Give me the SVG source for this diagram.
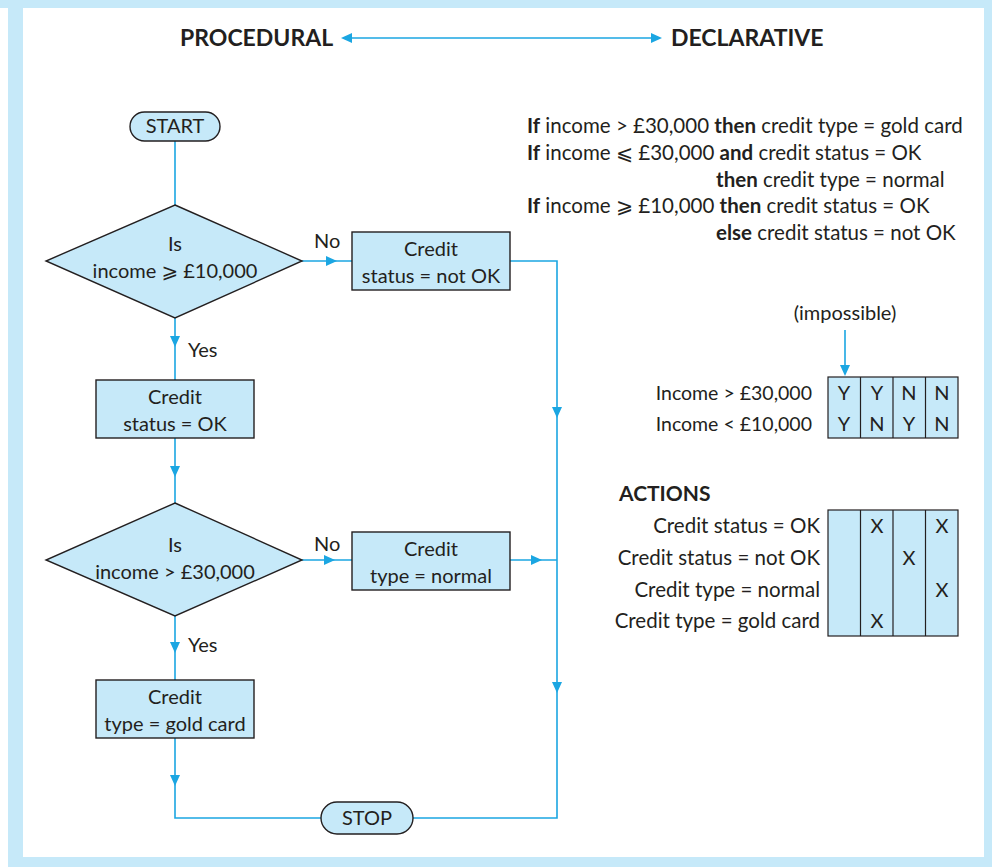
<svg xmlns="http://www.w3.org/2000/svg" width="992" height="867" viewBox="0 0 992 867">
  <style>
    text { font-family: Lato, "Liberation Sans", "DejaVu Sans", sans-serif; font-size: 20px; fill: #231f20; }
    .b { font-weight: bold; }
    .hd { font-size: 23px; font-weight: bold; }
    .rule { font-size: 20.5px; }
    .cond { font-size: 19.5px; }
    .mid { text-anchor: middle; }
    .end { text-anchor: end; }
    .frame { fill: #c6e9f9; }
    .node { fill: #c6e9f9; stroke: #231f20; stroke-width: 1.4; }
    .cell { fill: #c6e9f9; stroke: #231f20; stroke-width: 1.2; }
    .wire { fill: none; stroke: #1ba6e2; stroke-width: 1.6; }
    .head { fill: #1ba6e2; }
  </style>
  <defs>
    <path id="ah" d="M0,0 L-11,-5 L-11,5 Z"/>
  </defs>

  <!-- page frame -->
  <rect class="frame" x="0" y="0" width="992" height="8"/>
  <rect class="frame" x="8" y="0" width="15" height="867"/>
  <rect class="frame" x="984" y="0" width="8" height="867"/>
  <rect class="frame" x="8" y="857" width="984" height="10"/>

  <!-- heading scale -->
  <g id="scale">
    <text class="hd" x="180" y="46">PROCEDURAL</text>
    <text class="hd" x="671" y="46">DECLARATIVE</text>
    <line class="wire" x1="345" y1="38" x2="658" y2="38"/>
    <use href="#ah" class="head" transform="translate(341,38) rotate(180)"/>
    <use href="#ah" class="head" transform="translate(662,38)"/>
  </g>

  <!-- connectors -->
  <g id="connectors">
    <path class="wire" d="M175,141 V205"/>
    <path class="wire" d="M302,261 H352"/>
    <path class="wire" d="M510,261 H557 V818 H413"/>
    <path class="wire" d="M175,318 V380"/>
    <path class="wire" d="M175,438 V503"/>
    <path class="wire" d="M302,560 H352"/>
    <path class="wire" d="M510,560 H557"/>
    <path class="wire" d="M175,616 V680"/>
    <path class="wire" d="M175,738 V818 H321"/>
    <path class="wire" d="M845,330 V372"/>
    <use href="#ah" class="head" transform="translate(337,261)"/>
    <use href="#ah" class="head" transform="translate(175,347) rotate(90)"/>
    <use href="#ah" class="head" transform="translate(175,477) rotate(90)"/>
    <use href="#ah" class="head" transform="translate(335,560)"/>
    <use href="#ah" class="head" transform="translate(542,560)"/>
    <use href="#ah" class="head" transform="translate(557,418) rotate(90)"/>
    <use href="#ah" class="head" transform="translate(557,693) rotate(90)"/>
    <use href="#ah" class="head" transform="translate(175,653) rotate(90)"/>
    <use href="#ah" class="head" transform="translate(175,786) rotate(90)"/>
    <use href="#ah" class="head" transform="translate(845,376) rotate(90)"/>
    <text x="314" y="248">No</text>
    <text x="314" y="551">No</text>
    <text x="188" y="357">Yes</text>
    <text x="188" y="652">Yes</text>
  </g>

  <!-- flowchart nodes -->
  <g id="start">
    <rect class="node" x="130" y="112" width="90" height="29" rx="14.5"/>
    <text class="mid" x="175" y="133">START</text>
  </g>
  <g id="dec1">
    <polygon class="node" points="175,205 302,261 175,318 46,261"/>
    <text class="mid" x="175" y="251">Is</text>
    <text class="mid" x="175" y="278">income ⩾ £10,000</text>
  </g>
  <g id="notok">
    <rect class="node" x="352" y="232" width="158" height="58"/>
    <text class="mid" x="431" y="256">Credit</text>
    <text class="mid" x="431" y="283">status = not OK</text>
  </g>
  <g id="ok">
    <rect class="node" x="96" y="380" width="158" height="58"/>
    <text class="mid" x="175" y="404">Credit</text>
    <text class="mid" x="175" y="431">status = OK</text>
  </g>
  <g id="dec2">
    <polygon class="node" points="175,503 302,560 175,616 46,560"/>
    <text class="mid" x="175" y="552">Is</text>
    <text class="mid" x="175" y="579">income &gt; £30,000</text>
  </g>
  <g id="normal">
    <rect class="node" x="352" y="532" width="158" height="58"/>
    <text class="mid" x="431" y="556">Credit</text>
    <text class="mid" x="431" y="583">type = normal</text>
  </g>
  <g id="gold">
    <rect class="node" x="96" y="680" width="158" height="58"/>
    <text class="mid" x="175" y="704">Credit</text>
    <text class="mid" x="175" y="731">type = gold card</text>
  </g>
  <g id="stop">
    <rect class="node" x="321" y="802" width="92" height="32" rx="16"/>
    <text class="mid" x="367" y="825">STOP</text>
  </g>

  <!-- rules -->
  <g id="rules" class="rule">
    <text class="rule" x="527" y="133"><tspan class="b">If</tspan> income &gt; £30,000 <tspan class="b">then</tspan> credit type = gold card</text>
    <text class="rule" x="527" y="160"><tspan class="b">If</tspan> income ⩽ £30,000 <tspan class="b">and</tspan> credit status = OK</text>
    <text class="rule" x="716" y="187"><tspan class="b">then</tspan> credit type = normal</text>
    <text class="rule" x="527" y="213"><tspan class="b">If</tspan> income ⩾ £10,000 <tspan class="b">then</tspan> credit status = OK</text>
    <text class="rule" x="716" y="240"><tspan class="b">else</tspan> credit status = not OK</text>
  </g>

  <!-- condition table -->
  <g id="conditions">
    <text class="mid" x="845" y="320">(impossible)</text>
    <rect class="cell" x="828" y="377" width="130" height="61"/>
    <line class="cell" x1="860.5" y1="377" x2="860.5" y2="438"/>
    <line class="cell" x1="893" y1="377" x2="893" y2="438"/>
    <line class="cell" x1="925.5" y1="377" x2="925.5" y2="438"/>
    <text class="end cond" x="812" y="400">Income &gt; £30,000</text>
    <text class="end cond" x="812" y="431">Income &lt; £10,000</text>
    <text class="mid" x="844" y="400">Y</text>
    <text class="mid" x="877" y="400">Y</text>
    <text class="mid" x="909" y="400">N</text>
    <text class="mid" x="942" y="400">N</text>
    <text class="mid" x="844" y="431">Y</text>
    <text class="mid" x="877" y="431">N</text>
    <text class="mid" x="909" y="431">Y</text>
    <text class="mid" x="942" y="431">N</text>
  </g>

  <!-- action table -->
  <g id="actions">
    <text class="b" x="619" y="501" style="font-size:21px">ACTIONS</text>
    <rect class="cell" x="828" y="510" width="130" height="126"/>
    <line class="cell" x1="860.5" y1="510" x2="860.5" y2="636"/>
    <line class="cell" x1="893" y1="510" x2="893" y2="636"/>
    <line class="cell" x1="925.5" y1="510" x2="925.5" y2="636"/>
    <text class="end rule" x="820" y="533">Credit status = OK</text>
    <text class="end rule" x="820" y="565">Credit status = not OK</text>
    <text class="end rule" x="820" y="597">Credit type = normal</text>
    <text class="end rule" x="820" y="628">Credit type = gold card</text>
    <text class="mid" x="877" y="533">X</text>
    <text class="mid" x="942" y="533">X</text>
    <text class="mid" x="909" y="565">X</text>
    <text class="mid" x="942" y="597">X</text>
    <text class="mid" x="877" y="628">X</text>
  </g>
</svg>
